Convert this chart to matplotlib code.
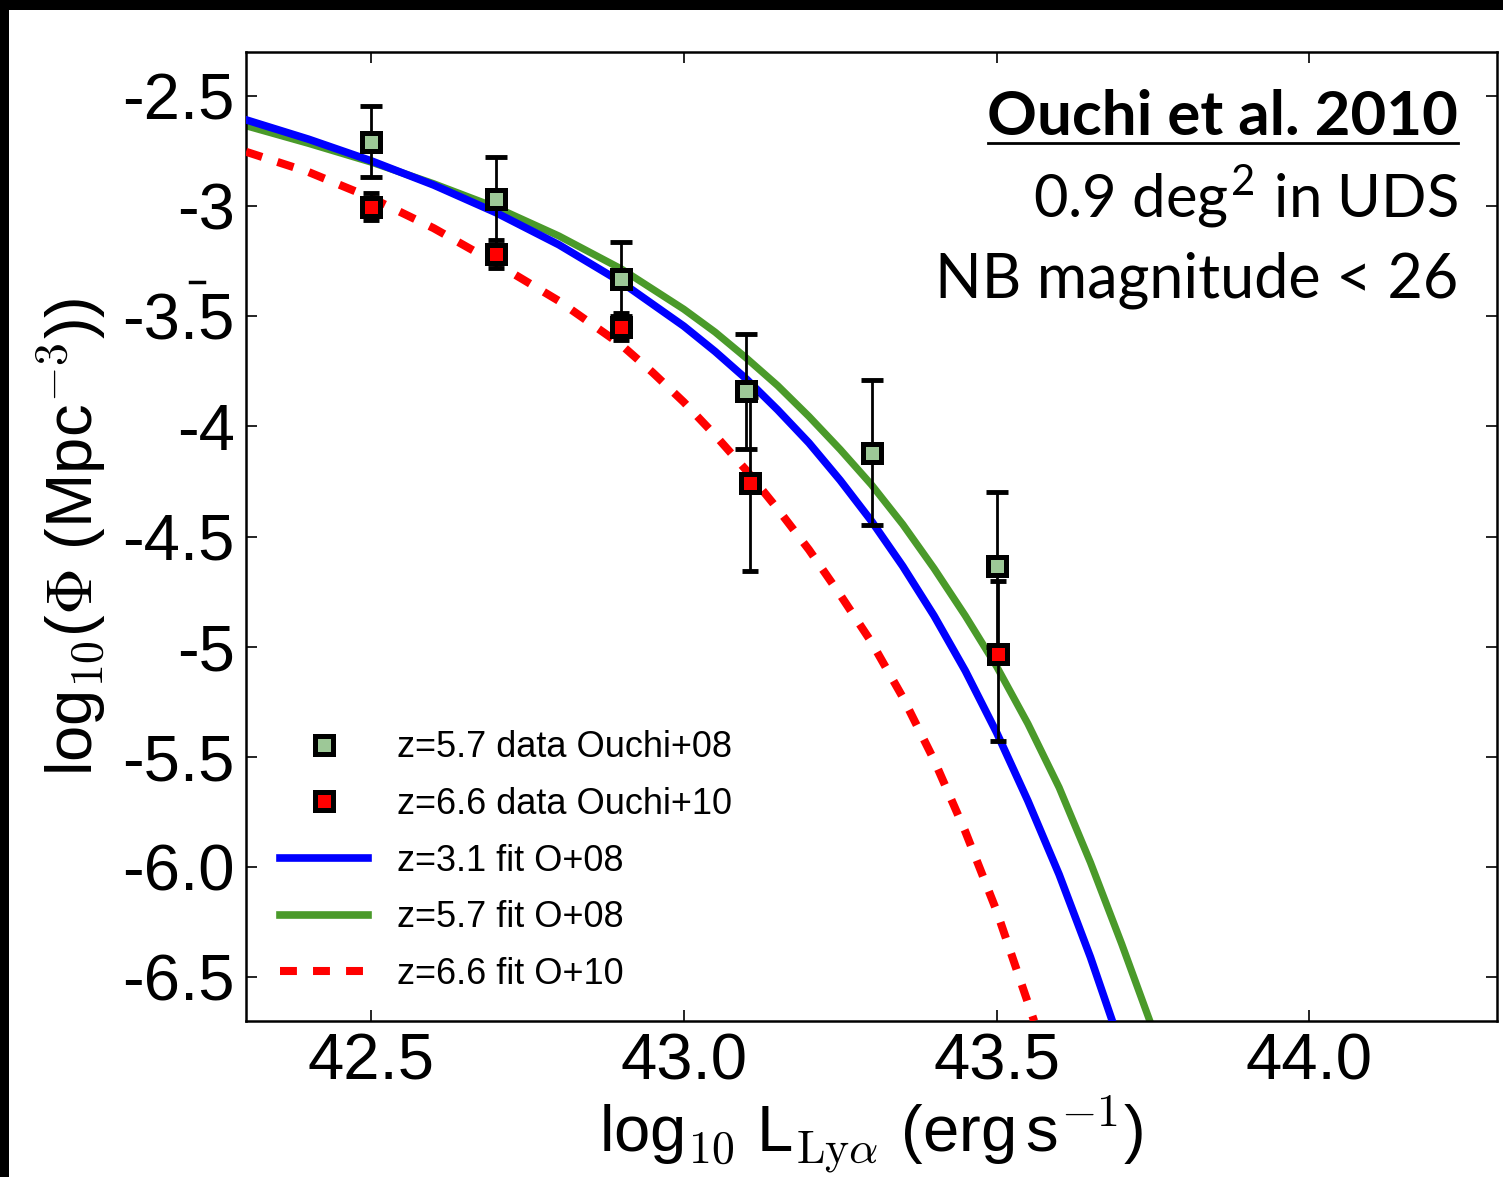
import numpy as np
import matplotlib
matplotlib.use("Agg")
import matplotlib.pyplot as plt
from matplotlib.lines import Line2D
from matplotlib.patches import Rectangle

plt.rcParams['font.family'] = ['Liberation Sans', 'DejaVu Sans']
plt.rcParams['mathtext.fontset'] = 'cm'

# z=5.7 data (Ouchi+08)
x57 = [42.5, 42.7, 42.9, 43.1, 43.3, 43.5]
y57 = [-2.709, -2.968, -3.332, -3.839, -4.12, -4.635]
y57_hi = [-2.545, -2.779, -3.162, -3.58, -3.79, -4.299]
y57_lo = [-2.868, -3.20, -3.50, -4.101, -4.45, -5.00]

# z=6.6 data (Ouchi+10)
x66 = [42.5, 42.7, 42.9, 43.105, 43.503]
y66 = [-3.002, -3.218, -3.547, -4.256, -5.035]
y66_hi = [-2.94, -3.155, -3.485, -3.868, -4.70]
y66_lo = [-3.064, -3.28, -3.61, -4.655, -5.43]

# fits
xfit31 = [42.3, 42.4, 42.5, 42.6, 42.7, 42.8, 42.9, 43.0, 43.05, 43.1, 43.15, 43.2, 43.25,
          43.3, 43.35, 43.4, 43.45, 43.5, 43.55, 43.6, 43.65, 43.685]
yfit31 = [-2.608, -2.696, -2.794, -2.904, -3.03, -3.175, -3.345, -3.545, -3.66, -3.785, -3.925,
          -4.075, -4.245, -4.43, -4.635, -4.86, -5.11, -5.39, -5.70, -6.035, -6.41, -6.7]

xfit57 = [42.3, 42.4, 42.5, 42.6, 42.7, 42.8, 42.9, 43.0, 43.05, 43.1, 43.15, 43.2, 43.25,
          43.3, 43.35, 43.4, 43.45, 43.5, 43.55, 43.6, 43.65, 43.7, 43.745]
yfit57 = [-2.635, -2.715, -2.80, -2.898, -3.006, -3.135, -3.285, -3.468, -3.572, -3.69, -3.815,
          -3.955, -4.105, -4.265, -4.445, -4.645, -4.86, -5.09, -5.35, -5.64, -5.98, -6.35, -6.7]

xfit66 = [42.3, 42.4, 42.5, 42.6, 42.7, 42.8, 42.9, 42.95, 43.0, 43.05, 43.1, 43.15, 43.2,
          43.25, 43.3, 43.35, 43.4, 43.45, 43.5, 43.56]
yfit66 = [-2.753, -2.845, -2.962, -3.10, -3.26, -3.43, -3.63, -3.755, -3.89, -4.04, -4.20,
          -4.375, -4.56, -4.765, -4.98, -5.23, -5.515, -5.84, -6.2, -6.7]

xticks = [42.5, 43.0, 43.5, 44.0]
xticklabels = ['42.5', '43.0', '43.5', '44.0']
yticks = [-2.5, -3, -3.5, -4, -4.5, -5, -5.5, -6.0, -6.5]
yticklabels = ['-2.5', '-3', '-3.5', '-4', '-4.5', '-5', '-5.5', '-6.0', '-6.5']

fig = plt.figure(figsize=(15.03, 11.77), dpi=100)
fig.patch.set_facecolor('black')
fig.patches.append(Rectangle((9/1503, 0), 1, 1 - 10/1177, transform=fig.transFigure,
                             facecolor='white', edgecolor='none', zorder=-10))

ax = fig.add_axes([246/1503, 1 - 1021/1177, 1251/1503, 969/1177])

ax.plot(xfit57, yfit57, color='#4a9a2a', lw=5.2, solid_joinstyle='round', zorder=2)
ax.plot(xfit31, yfit31, color='#0000ff', lw=5.5, solid_joinstyle='round', zorder=3)
ax.plot(xfit66, yfit66, color='#ff0000', lw=5.8, ls=(0, (2.1, 2.0)), zorder=3)

err57 = [np.array(y57) - np.array(y57_lo), np.array(y57_hi) - np.array(y57)]
err66 = [np.array(y66) - np.array(y66_lo), np.array(y66_hi) - np.array(y66)]
ax.errorbar(x57, y57, yerr=err57, fmt='none', ecolor='black', elinewidth=2,
            capsize=8, capthick=3.5, zorder=4)
ax.errorbar(x66, y66, yerr=err66, fmt='none', ecolor='black', elinewidth=2,
            capsize=6, capthick=3.5, zorder=4)
p57, = ax.plot(x57, y57, 's', ms=13, mfc='#9dc897', mec='black', mew=3.6, zorder=5)
p66, = ax.plot(x66, y66, 's', ms=13, mfc='#ff0000', mec='black', mew=3.6, zorder=5)

ax.set_xlim(42.3, 44.3)
ax.set_ylim(-6.7, -2.3)
ax.set_xticks(xticks)
ax.set_xticklabels(xticklabels)
ax.set_yticks(yticks)
ax.set_yticklabels(yticklabels)
ax.tick_params(direction='in', length=8, width=1.2, labelsize=47,
               top=True, right=True, pad=8)
for s in ax.spines.values():
    s.set_linewidth(1.8)

ax.set_xlabel(r'log$_{10}$ L$_{\rm Ly\alpha}$ (erg$\,$s$^{-1}$)', fontsize=47, labelpad=2)
ax.set_ylabel(r'log$_{10}$($\Phi$ (Mpc$^{-3}$))', fontsize=47, labelpad=10)

h31 = Line2D([], [], color='#0000ff', lw=5.5)
h57 = Line2D([], [], color='#4a9a2a', lw=5.5)
h66 = Line2D([], [], color='#ff0000', lw=5.8, ls=(0, (2.1, 2.0)))
ax.legend([p57, p66, h31, h57, h66],
          ['z=5.7 data Ouchi+08', 'z=6.6 data Ouchi+10', 'z=3.1 fit O+08',
           'z=5.7 fit O+08', 'z=6.6 fit O+10'],
          loc='lower left', bbox_to_anchor=(0.027, 0.03), frameon=False,
          borderpad=0, borderaxespad=0,
          fontsize=26, handlelength=2.45, handletextpad=0.8, labelspacing=0.6,
          numpoints=1)

ax.text(0.969, 0.914, 'Ouchi et al. 2010', transform=ax.transAxes, ha='right',
        va='baseline', fontsize=44.5, fontweight='bold', family='Lato')
ax.plot([0.593, 0.969], [0.906, 0.906], transform=ax.transAxes, color='black', lw=2, clip_on=False)
ax.text(0.969, 0.829, r'0.9 deg$^{\mathregular{2}}$ in UDS', transform=ax.transAxes, ha='right',
        va='baseline', fontsize=43, family='Lato')
ax.text(0.969, 0.747, 'NB magnitude < 26', transform=ax.transAxes, ha='right',
        va='baseline', fontsize=44, family='Lato')

fig.add_artist(Line2D([190/1503, 204/1503], [1 - 282/1177, 1 - 282/1177], color='black', lw=2.5))

fig.savefig('out.png', dpi=100, facecolor=fig.get_facecolor())
